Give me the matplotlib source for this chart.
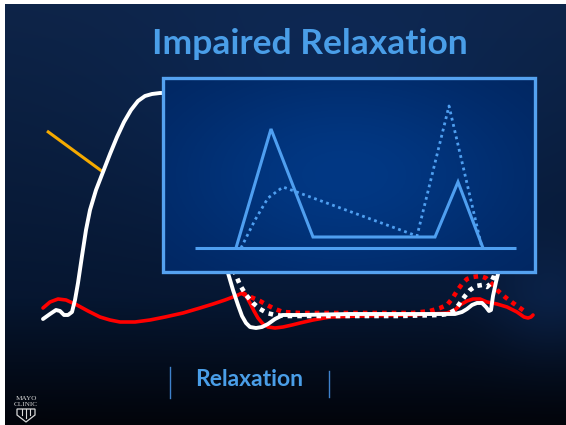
import numpy as np
import matplotlib
matplotlib.use("Agg")
import matplotlib.pyplot as plt
from matplotlib.patches import Rectangle
from matplotlib.path import Path
from matplotlib.patches import PathPatch

# ---- data (pixel space, y grows downward) ----
lv_solid_x = [43, 50, 56, 60, 64, 68, 72, 75, 78, 82, 86, 90, 96, 103, 110, 117, 124, 131, 138, 145, 152, 160, 168,
              200, 226, 228, 233, 238, 242, 246, 250, 256, 262, 268, 275, 283, 300, 350, 400, 440, 455, 462, 467,
              472, 477, 482, 486, 489, 491, 493, 496, 499, 502]
lv_solid_y = [319, 314, 310, 311, 315, 315, 312, 300, 283, 256, 230, 210, 190, 172, 154, 137, 122, 110, 101, 96, 94, 93, 93,
              93, 250, 273, 290, 305, 316, 323, 327, 328, 327, 324, 319, 315, 315, 314, 314, 314, 314, 312, 309,
              305, 303, 303, 307, 311, 310, 296, 282, 270, 255]

lv_dot_x = [233, 235, 240, 246, 253, 260, 267, 275, 285, 300, 350, 400, 440, 448, 455, 460, 465, 470, 476, 482, 487,
            491, 494, 497]
lv_dot_y = [260, 273, 285, 295, 303, 309, 313, 315, 316, 316, 316, 316, 315, 314, 310, 303, 296, 290, 286, 285, 287,
            283, 276, 265]

la_solid_x = [43, 50, 58, 66, 77, 88, 100, 110, 120, 135, 150, 165, 183, 200, 213, 225, 233, 238, 242, 246, 250, 254,
              258, 263, 268, 275, 283, 292, 300, 313, 330, 360, 413, 447, 455, 460, 467, 473, 480, 487, 497, 507,
              517, 524, 528, 531, 533]
la_solid_y = [308, 302, 299, 300, 305, 311, 317, 320, 322, 322, 320, 317, 313, 308, 304, 300, 297, 295, 293, 296, 303, 311,
              318, 324, 327, 328, 327, 325, 323, 320, 317, 316, 315, 313, 310, 305, 301, 299, 299, 302, 304, 307,
              312, 317, 318, 317, 315]

la_dot_x = [242, 248, 253, 260, 267, 275, 283, 300, 350, 413, 430, 440, 447, 452, 457, 462, 467, 473, 480, 486, 492,
            497, 505, 513, 520, 527]
la_dot_y = [293, 296, 298, 301, 305, 309, 312, 313, 313, 313, 311, 308, 305, 299, 291, 284, 279, 277, 276, 278, 284,
            290, 297, 303, 308, 313]

# mitral inflow Doppler inside the inset
mv_solid_x = [236, 271, 313, 435, 458, 483]
mv_solid_y = [248, 129, 237, 237, 182, 248]
mv_dot_x = [241, 255, 268, 283, 417, 449, 482]
mv_dot_y = [248, 220, 198, 187, 236, 106, 248]

orange_x = [47, 103]
orange_y = [131, 172]

title = "Impaired Relaxation"
phase_label = "Relaxation"

W, H = 566, 425
fig = plt.figure(figsize=(W / 100, H / 100), dpi=100)
ax = fig.add_axes([0, 0, 1, 1])
ax.set_xlim(0, W)
ax.set_ylim(H, 0)
ax.axis("off")

# ---- slide background: navy fading to near black ----
yy, xx = np.mgrid[0:H, 0:W]
t = yy / H
top = np.array([14, 36, 72]) / 255
mid = np.array([6, 22, 48]) / 255
bot = np.array([2, 4, 10]) / 255
w1 = np.clip(t / 0.7, 0, 1)[..., None]
w2 = np.clip((t - 0.7) / 0.3, 0, 1)[..., None]
col = top * (1 - w1) + mid * w1
col = col * (1 - w2) + bot * w2
glow = np.exp(-(((xx - 330) / 200.0) ** 2 + ((yy - 120) / 140.0) ** 2))[..., None]
col = col + glow * np.array([0, 8, 20]) / 255
haze = np.exp(-(((xx - 550) / 60.0) ** 2 + ((yy - 300) / 60.0) ** 2))[..., None]
col = col + haze * np.array([4, 10, 20]) / 255
ax.imshow(np.clip(col, 0, 1), extent=(0, W, H, 0), zorder=0, aspect="auto")

# white page margins
ax.add_patch(Rectangle((0, 0), 5, H, color="white", zorder=20, lw=0))
ax.add_patch(Rectangle((0, 0), W, 4, color="white", zorder=20, lw=0))

# ---- title ----
ax.text(310, 44, title, color="#4a9ee8", fontsize=25.5, fontweight="bold", family="Lato",
        ha="center", va="center", zorder=10)

# ---- pressure curves ----
ax.plot(orange_x, orange_y, color="#f5aa00", lw=2.2, solid_capstyle="butt", zorder=3)
ax.plot(la_solid_x, la_solid_y, color="#ff0000", lw=2.6, solid_joinstyle="round",
        solid_capstyle="round", zorder=4)
ax.plot(la_dot_x, la_dot_y, color="#ff0000", lw=3.3, linestyle=(0, (1, 1.1)),
        dash_capstyle="butt", zorder=4)
ax.plot(lv_dot_x, lv_dot_y, color="white", lw=3.3, linestyle=(0, (1, 1.1)),
        dash_capstyle="butt", zorder=5)
ax.plot(lv_solid_x, lv_solid_y, color="white", lw=2.8, solid_joinstyle="round",
        solid_capstyle="round", zorder=5)

# ---- Doppler inset ----
bx0, by0, bx1, by1 = 163, 78, 535, 272
ixx, iyy = np.meshgrid(np.linspace(bx0, bx1, 200), np.linspace(by0, by1, 120))
g = np.exp(-(((ixx - 345) / 190.0) ** 2 + ((iyy - 175) / 110.0) ** 2))[..., None]
edge = np.array([1, 36, 92]) / 255
center = np.array([2, 56, 132]) / 255
inset = edge * (1 - g) + center * g
ax.imshow(inset, extent=(bx0, bx1, by1, by0), zorder=7, aspect="auto")
ax.add_patch(Rectangle((bx0, by0), bx1 - bx0, by1 - by0, fill=False, ec="#55a2f0", lw=2.4, zorder=8))

ax.plot([195, 516], [248, 248], color="#4f9ff0", lw=2.2, solid_capstyle="butt", zorder=8)
ax.plot(mv_solid_x, mv_solid_y, color="#4f9ff0", lw=2.2, solid_joinstyle="miter", zorder=8)
ax.plot(mv_dot_x, mv_dot_y, color="#4f9ff0", lw=2.0, linestyle=(0, (1, 1.3)), zorder=8)

# ---- phase label with brackets ----
ax.plot([170, 170], [367, 398], color="#3f82cc", lw=1.0, zorder=6)
ax.plot([329, 329], [371, 397], color="#3f82cc", lw=1.0, zorder=6)
ax.text(249, 380, phase_label, color="#4a9ee8", fontsize=16.5, fontweight="bold", family="Lato",
        ha="center", va="center", zorder=6)

# ---- logo ----
ax.text(26, 398, "MAYO", color="#d8d8d8", fontsize=5.2, family="Liberation Serif",
        ha="center", va="center", zorder=6)
ax.text(26, 404.5, "CLINIC", color="#d8d8d8", fontsize=5.2, family="Liberation Serif",
        ha="center", va="center", zorder=6)
shield = Path([(17, 409), (35, 409), (35, 415), (26, 422), (17, 415), (17, 409)],
              [Path.MOVETO, Path.LINETO, Path.LINETO, Path.LINETO, Path.LINETO, Path.CLOSEPOLY])
ax.add_patch(PathPatch(shield, fill=False, ec="#d8d8d8", lw=0.9, zorder=6))
for sx in (22, 26, 30):
    ax.plot([sx, sx], [409, 418 if sx == 26 else 415], color="#d8d8d8", lw=0.8, zorder=6)

fig.savefig("out.png", dpi=100)
